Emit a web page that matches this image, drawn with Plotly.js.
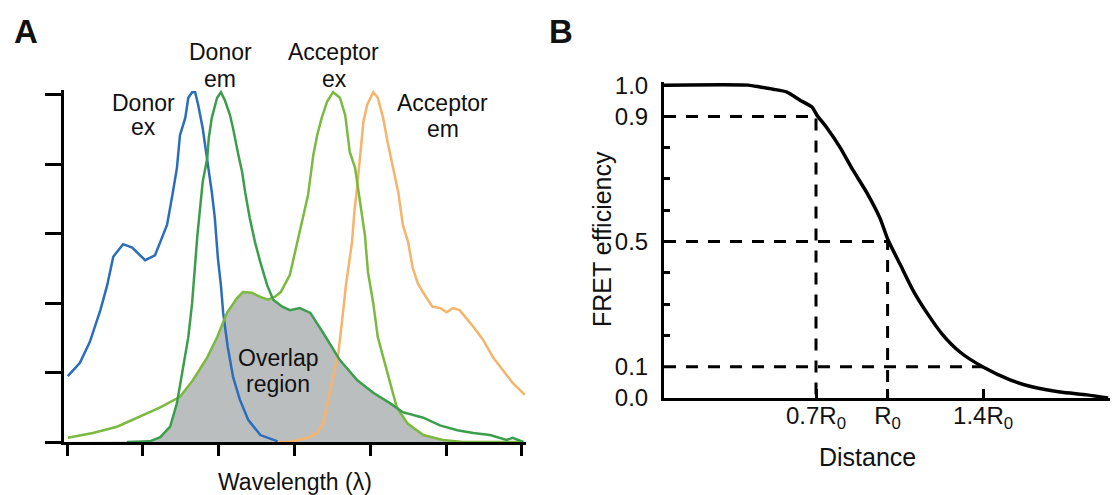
<!DOCTYPE html>
<html>
<head>
<meta charset="utf-8">
<script src="https://cdn.plot.ly/plotly-3.0.1.min.js"></script>
<style>html,body{margin:0;padding:0;background:#fff;}#chart{width:1113px;height:495px;}</style>
</head>
<body>
<div id="chart"></div>
<script>
// ---------- Panel A: spectra (wavelength in tick units, intensity in tick units) ----------
const wlTicks = [0, 1, 2, 3, 4, 5, 6];
const intTicks = [0, 1, 2, 3, 4, 5];

const donorExX = [0.01,0.17,0.30,0.44,0.53,0.61,0.74,0.86,1.03,1.16,1.23,1.32,1.39,1.45,1.49,1.56,1.60,1.65,1.69,1.73,1.79,1.85,1.91,1.95,1.99,2.03,2.06,2.12,2.19,2.28,2.39,2.55,2.72,2.78];
const donorExY = [0.95,1.14,1.44,1.90,2.26,2.67,2.85,2.80,2.62,2.69,2.88,3.13,3.56,3.95,4.42,4.67,4.96,5.04,5.04,4.86,4.52,4.09,3.60,3.23,2.65,2.26,1.86,1.37,0.94,0.61,0.32,0.10,0.03,0.01];

const donorEmX = [0.79,1.09,1.23,1.36,1.45,1.53,1.60,1.65,1.69,1.72,1.75,1.79,1.85,1.87,1.91,1.98,2.03,2.08,2.15,2.19,2.26,2.31,2.35,2.41,2.48,2.55,2.64,2.72,2.84,2.94,3.07,3.21,3.38,3.60,3.83,4.04,4.26,4.43,4.70,4.92,5.15,5.36,5.58,5.80,5.88,6.02];
const donorEmY = [0,0.01,0.07,0.22,0.56,1.04,1.51,2.00,2.59,2.98,3.31,3.75,4.09,4.38,4.67,4.96,5.04,4.93,4.71,4.52,4.14,3.89,3.60,3.23,2.88,2.59,2.26,2.05,1.95,1.90,1.93,1.86,1.57,1.18,0.89,0.71,0.56,0.43,0.35,0.24,0.17,0.13,0.10,0.03,0.06,0.0];

const accExX = [0.01,0.34,0.66,0.92,1.23,1.49,1.66,1.85,1.98,2.11,2.24,2.32,2.44,2.55,2.65,2.74,2.82,2.94,3.03,3.11,3.18,3.25,3.30,3.36,3.43,3.51,3.60,3.67,3.73,3.80,3.87,3.93,3.97,4.04,4.10,4.22,4.35,4.49,4.70,4.96,5.22,6.02];
const accExY = [0.06,0.13,0.22,0.35,0.50,0.65,0.89,1.22,1.51,1.86,2.07,2.16,2.15,2.09,2.05,2.09,2.16,2.41,2.84,3.23,3.56,4.14,4.42,4.67,4.90,5.04,4.96,4.71,4.18,3.95,3.46,2.98,2.45,2.00,1.51,1.04,0.50,0.27,0.10,0.03,0.0,0.0];

const accEmX = [2.78,2.94,3.17,3.30,3.38,3.44,3.51,3.58,3.63,3.68,3.76,3.79,3.83,3.87,3.91,3.96,4.04,4.10,4.17,4.23,4.30,4.37,4.43,4.50,4.56,4.63,4.70,4.82,4.92,5.01,5.09,5.18,5.36,5.49,5.62,5.75,5.88,6.04];
const accEmY = [0,0,0.06,0.13,0.27,0.56,0.94,1.28,1.76,2.26,2.88,3.31,3.70,4.18,4.61,4.86,5.04,4.96,4.67,4.32,3.95,3.60,3.13,2.88,2.51,2.28,2.15,1.95,1.93,1.87,1.93,1.90,1.66,1.47,1.22,1.04,0.85,0.68];

// ---------- Panel B: FRET efficiency vs distance (distance in units of R0) ----------
const distR = [0.063,0.415,0.465,0.52,0.578,0.633,0.683,0.704,0.746,0.80,0.855,0.914,0.968,1.002,1.052,1.106,1.165,1.232,1.303,1.40,1.513,1.609,1.723,1.836,1.924];
const fretE = [1.0,1.0,0.994,0.987,0.978,0.952,0.930,0.904,0.863,0.802,0.728,0.655,0.575,0.505,0.428,0.345,0.272,0.201,0.147,0.099,0.058,0.035,0.019,0.010,0.0];
const refDist = [0.7, 1.0, 1.4];
const refEff = [0.9, 0.5, 0.1];
const refDrop = [true, true, false];
const distTickVals = [0.7, 1.0, 1.4];
const distTickText = ['0.7R<sub>0</sub>', 'R<sub>0</sub>', '1.4R<sub>0</sub>'];
const effTickVals = [0, 0.1, 0.5, 0.9, 1.0];
const effTickText = ['0.0', '0.1', '0.5', '0.9', '1.0'];
const effMinorVals = [0.2, 0.3, 0.4, 0.6, 0.7, 0.8];

// ---------- overlap = min(donor emission, acceptor excitation) ----------
function interp(xs, ys, x) {
  if (x < xs[0] || x > xs[xs.length - 1]) return 0;
  for (let i = 0; i < xs.length - 1; i++) {
    if (x >= xs[i] && x <= xs[i + 1]) {
      const t = (x - xs[i]) / (xs[i + 1] - xs[i] || 1);
      return ys[i] + t * (ys[i + 1] - ys[i]);
    }
  }
  return ys[ys.length - 1];
}
const grid = Array.from(new Set(donorEmX.concat(accExX))).sort((a, b) => a - b);
const overlapY = grid.map(x => Math.min(interp(donorEmX, donorEmY, x), interp(accExX, accExY, x)));

const FONT = 'Liberation Sans, Arial, Helvetica, sans-serif';
const TXT = '#111111';
const xRangeB = [0.063, 1.932];

const traces = [
  {x: grid, y: overlapY, type: 'scatter', mode: 'lines', fill: 'tozeroy', fillcolor: '#babebf',
   line: {width: 0, color: 'rgba(0,0,0,0)'}, xaxis: 'x', yaxis: 'y', hoverinfo: 'skip'},
  {x: donorExX, y: donorExY, type: 'scatter', mode: 'lines', name: 'Donor ex',
   line: {color: '#2a6ebb', width: 2.5}, xaxis: 'x', yaxis: 'y'},
  {x: accEmX, y: accEmY, type: 'scatter', mode: 'lines', name: 'Acceptor em',
   line: {color: '#f6b36a', width: 2.5}, xaxis: 'x', yaxis: 'y'},
  {x: accExX, y: accExY, type: 'scatter', mode: 'lines', name: 'Acceptor ex',
   line: {color: '#7bba3f', width: 2.5}, xaxis: 'x', yaxis: 'y'},
  {x: donorEmX, y: donorEmY, type: 'scatter', mode: 'lines', name: 'Donor em',
   line: {color: '#3b9e4c', width: 2.5}, xaxis: 'x', yaxis: 'y'}
];

refDist.forEach((r, i) => {
  const xs = [xRangeB[0], r];
  const ys = [refEff[i], refEff[i]];
  if (refDrop[i]) { xs.push(r); ys.push(0); }
  traces.push({x: xs, y: ys, type: 'scatter', mode: 'lines',
    line: {color: '#000', width: 3, dash: '12px,10px'}, xaxis: 'x2', yaxis: 'y2', hoverinfo: 'skip'});
});
traces.push({x: distR, y: fretE, type: 'scatter', mode: 'lines', name: 'FRET efficiency',
  line: {color: '#000', width: 3.5, shape: 'spline', smoothing: 0.6}, xaxis: 'x2', yaxis: 'y2'});

const W = 1113, H = 495;
const px = v => v / W;
const py = v => 1 - v / H;

function ann(text, x, y, size, extra) {
  return Object.assign({text: text, xref: 'paper', yref: 'paper', x: px(x), y: py(y),
    xanchor: 'center', yanchor: 'middle', showarrow: false,
    font: {family: FONT, size: size, color: TXT}}, extra || {});
}

const annotations = [
  ann('<b>A</b>', 26, 32, 33),
  ann('<b>B</b>', 561, 32, 33),
  ann('Donor', 143.5, 103, 23), ann('ex', 143.5, 127, 23),
  ann('Donor', 220, 51.5, 23), ann('em', 220, 79, 23),
  ann('Acceptor', 333, 51.5, 23), ann('ex', 334, 79, 23),
  ann('Acceptor', 442.5, 102.5, 23), ann('em', 442.5, 129, 23),
  ann('Overlap', 278, 357.5, 23), ann('region', 277.5, 384, 23),
  ann('Wavelength (λ)', 295, 481.5, 23),
  ann('Distance', 867, 456.5, 25),
  ann('FRET efficiency', 602, 239, 25, {textangle: -90})
];

const layout = {
  width: W, height: H,
  margin: {l: 0, r: 0, t: 0, b: 0},
  paper_bgcolor: '#ffffff', plot_bgcolor: 'rgba(0,0,0,0)',
  showlegend: false,
  font: {family: FONT, color: TXT},
  xaxis: {domain: [64 / W, 525.6 / W], range: [-0.04, 6.05], showgrid: false, zeroline: false,
    showline: true, linecolor: '#000', linewidth: 3, tickmode: 'array', tickvals: wlTicks,
    ticks: 'outside', ticklen: 11, tickwidth: 3, tickcolor: '#000', showticklabels: false, fixedrange: true},
  yaxis: {domain: [py(442), py(90.1)], range: [0, 5.07], showgrid: false, zeroline: false,
    showline: true, linecolor: '#000', linewidth: 3, tickmode: 'array', tickvals: intTicks,
    ticks: 'outside', ticklen: 16, tickwidth: 3, tickcolor: '#000', showticklabels: false, fixedrange: true},
  xaxis2: {domain: [664 / W, 1110 / W], range: xRangeB, anchor: 'y2', showgrid: false, zeroline: false,
    showline: true, linecolor: '#000', linewidth: 3, tickmode: 'array', tickvals: distTickVals,
    ticktext: distTickText, ticks: 'inside', ticklen: 9, tickwidth: 3, tickcolor: '#000',
    ticklabelstandoff: -6, tickfont: {family: FONT, size: 24, color: TXT}, fixedrange: true},
  yaxis2: {domain: [py(398), py(82)], range: [0, 1.01], anchor: 'x2', showgrid: false, zeroline: false,
    showline: true, linecolor: '#000', linewidth: 3, tickmode: 'array', tickvals: effTickVals,
    ticktext: effTickText, ticks: '', ticklabelstandoff: 8,
    tickfont: {family: FONT, size: 24, color: TXT},
    minor: {tickmode: 'array', tickvals: effMinorVals, ticks: 'inside', ticklen: 6, tickwidth: 3, tickcolor: '#000', showgrid: false},
    fixedrange: true},
  annotations: annotations
};

Plotly.newPlot('chart', traces, layout, {displayModeBar: false, staticPlot: true});
</script>
</body>
</html>
